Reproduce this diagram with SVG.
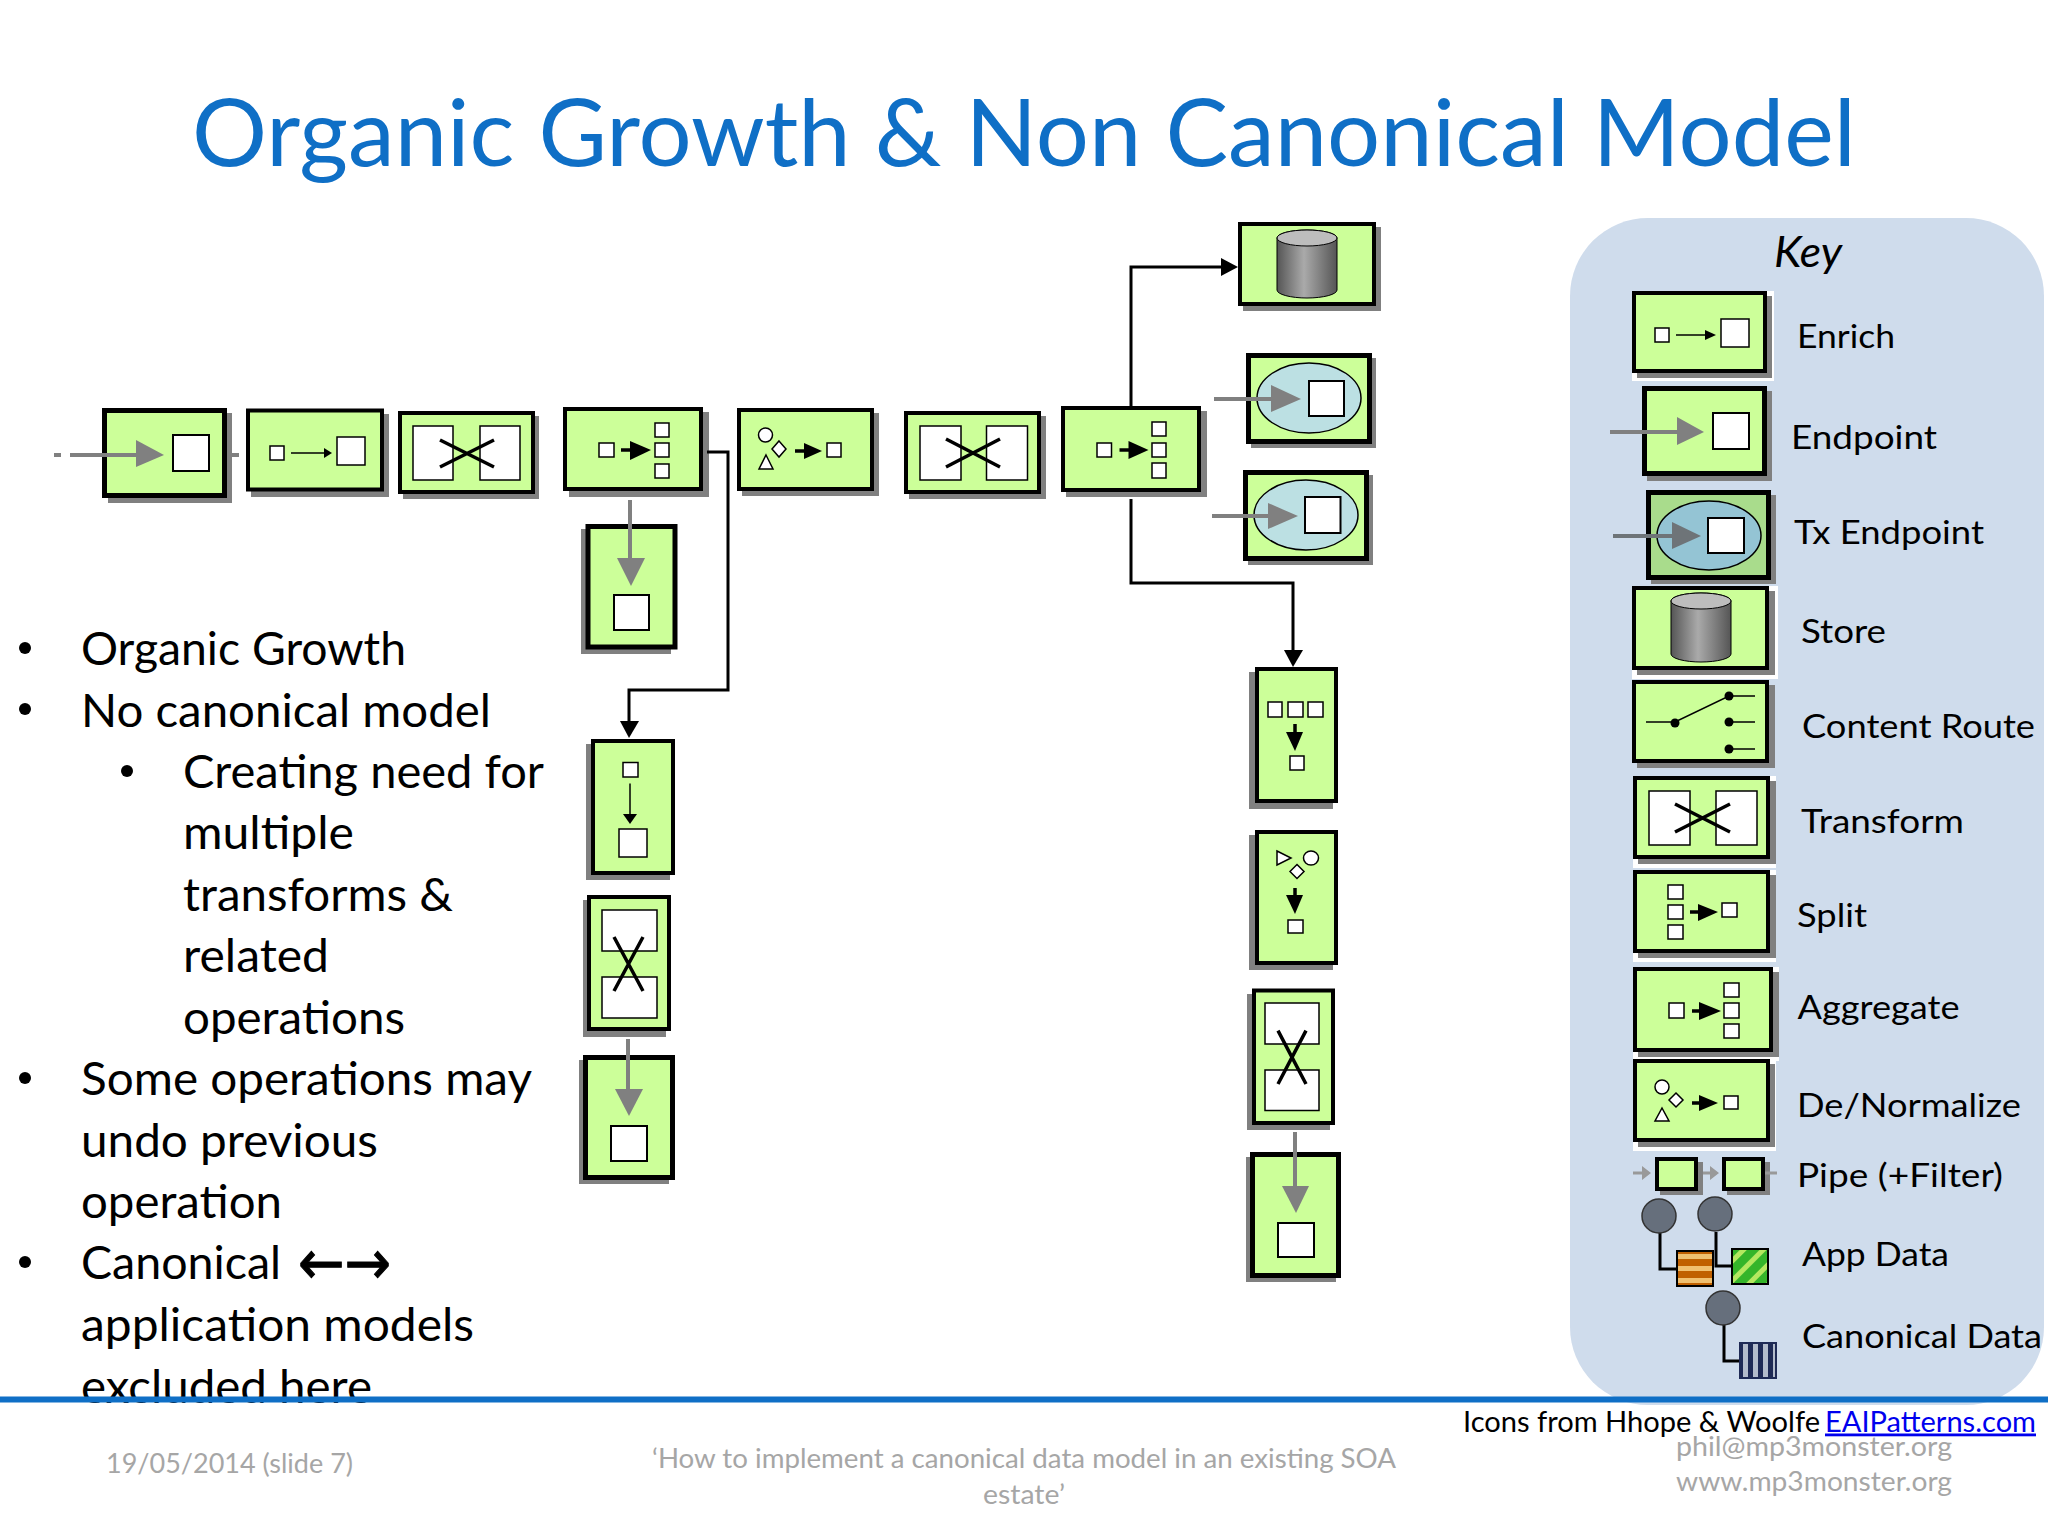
<svg xmlns="http://www.w3.org/2000/svg" width="2048" height="1536" viewBox="0 0 2048 1536">
<style>
text{font-family:Lato,"Open Sans",sans-serif;fill:#000}
.title{font-size:94px;fill:#0f6fc6}
.b{font-size:46px}
.k{font-size:33px}
.f{font-size:27px;fill:#a6a6a6}
.bx{fill:#ccff99;stroke:#000;stroke-width:4}
.tk{fill:#ccff99;stroke:#000;stroke-width:5}
.sh{fill:#808080}
.hl{fill:#fff}
.w{fill:#fff;stroke:#000;stroke-width:1.5}
.w2{fill:#fff;stroke:#000;stroke-width:2}
.x{stroke:#000;stroke-width:3.5;fill:none}
.th{stroke:#000;stroke-width:1.5;fill:none}
.ga{stroke:#808080;stroke-width:4;fill:none}
.gt{fill:#808080}
.bt{fill:#000}
.bl{stroke:#000;stroke-width:3;fill:none}
.tx{fill:#bce0e3;stroke:#000;stroke-width:1.5}
.cy{fill:url(#cyl);stroke:#000;stroke-width:1}
.ct{fill:#bdbdbd;stroke:#000;stroke-width:1}
.dc{fill:#666f7c;stroke:#333;stroke-width:1.5}
</style>
<defs>
<linearGradient id="cyl" x1="0" x2="1" y1="0" y2="0"><stop offset="0" stop-color="#555"/><stop offset=".45" stop-color="#aaa"/><stop offset="1" stop-color="#555"/></linearGradient>
<pattern id="po" width="10" height="12" patternUnits="userSpaceOnUse" y="1251"><rect width="10" height="12" fill="#c06000"/><rect y="3" width="10" height="5" fill="#f0c070"/></pattern>
<pattern id="pg" width="14" height="14" patternUnits="userSpaceOnUse" patternTransform="rotate(-45)"><rect width="14" height="14" fill="#35b52a"/><rect width="14" height="5" fill="#b4e860"/></pattern>
<pattern id="pb" width="10" height="10" patternUnits="userSpaceOnUse" x="1740"><rect width="10" height="10" fill="#1f2a55"/><rect x="3" width="5" height="10" fill="#b4bccb"/></pattern>
</defs>
<rect width="2048" height="1536" fill="#fff"/>
<text class="title" x="192" y="166" textLength="1664" lengthAdjust="spacingAndGlyphs">Organic Growth &amp; Non Canonical Model</text>

<g id="key-panel"><rect x="1570" y="218" width="474" height="1187" rx="78" fill="#cfdcec"/>
<text class="k" x="1774" y="267" font-style="italic" style="font-size:42px" textLength="68" lengthAdjust="spacingAndGlyphs">Key</text></g>

<g id="bullets" class="b">
<circle cx="25" cy="648" r="6"/><circle cx="25" cy="709" r="6"/><circle cx="127" cy="771" r="6"/><circle cx="25" cy="1078" r="6"/><circle cx="25" cy="1262" r="6"/>
<text class="b" x="81" y="665" textLength="325" lengthAdjust="spacingAndGlyphs">Organic Growth</text>
<text class="b" x="81" y="726.500" textLength="410" lengthAdjust="spacingAndGlyphs">No canonical model</text>
<text class="b" x="183" y="788" textLength="361" lengthAdjust="spacingAndGlyphs">Creating need for</text>
<text class="b" x="183" y="849" textLength="171" lengthAdjust="spacingAndGlyphs">multiple</text>
<text class="b" x="183" y="910.500" textLength="270" lengthAdjust="spacingAndGlyphs">transforms &amp;</text>
<text class="b" x="183" y="972" textLength="146" lengthAdjust="spacingAndGlyphs">related</text>
<text class="b" x="183" y="1034" textLength="222" lengthAdjust="spacingAndGlyphs">operations</text>
<text class="b" x="81" y="1095" textLength="451" lengthAdjust="spacingAndGlyphs">Some operations may</text>
<text class="b" x="81" y="1156.500" textLength="297" lengthAdjust="spacingAndGlyphs">undo previous</text>
<text class="b" x="81" y="1218" textLength="201" lengthAdjust="spacingAndGlyphs">operation</text>
<text class="b" x="81" y="1279" textLength="200" lengthAdjust="spacingAndGlyphs">Canonical</text>
<text x="298" y="1284" style="font-family:'DejaVu Sans',sans-serif;font-size:62px;stroke:#000;stroke-width:1" textLength="93" lengthAdjust="spacingAndGlyphs">←→</text>
<text class="b" x="81" y="1341" textLength="393" lengthAdjust="spacingAndGlyphs">application models</text>
<text class="b" x="81" y="1403" textLength="291" lengthAdjust="spacingAndGlyphs">excluded here</text>
</g>

<g id="n1-endpoint"><rect class="sh" x="108" y="413" width="124" height="90"/><rect class="tk" x="104.500" y="410.500" width="120" height="85"/><rect class="w2" x="173" y="435" width="36" height="36"/></g>
<g id="n2-enrich"><rect class="sh" x="251" y="414" width="138" height="83"/><rect class="bx" x="248" y="410.500" width="134" height="79"/><rect class="w" x="270" y="446" width="14" height="14"/><rect class="w" x="337" y="437" width="28" height="28"/><path class="th" d="M291 453H326"/><path class="bt" d="M324 448L332 453L324 458Z"/></g>
<g id="n3-transform"><rect class="sh" x="403" y="416" width="136" height="83"/><rect class="bx" x="400" y="413" width="133" height="79"/><rect class="w" x="413" y="426" width="40" height="54"/><rect class="w" x="480" y="426" width="40" height="54"/><path class="x" d="M440 440L494 467M440 467L494 440"/></g>
<g id="n4-aggregate"><rect class="sh" x="569" y="412" width="140" height="85"/><rect class="bx" x="565" y="409" width="136" height="80"/><rect class="w" x="599" y="443" width="15" height="14"/><rect class="w" x="655" y="423" width="14" height="14"/><rect class="w" x="655" y="443" width="14" height="14"/><rect class="w" x="655" y="464" width="14" height="14"/><path class="x" d="M621 450H634"/><path class="bt" d="M630 441L651 450L630 460Z"/></g>
<g id="n5-endpoint"><rect class="sh" x="581" y="529" width="90" height="125"/><rect class="tk" x="588" y="526.500" width="87" height="120.500"/><rect class="w2" x="614" y="595" width="35" height="35"/></g>
<g id="n6-denormalize"><rect class="sh" x="742" y="413" width="137" height="83"/><rect class="bx" x="739" y="410" width="133" height="79"/><ellipse class="w" cx="765.500" cy="435" rx="7" ry="7"/><path class="w" d="M779 441L786 449L779 457L772 449Z"/><path class="w" d="M766 455L773 469H759Z"/><path class="x" d="M795 451H806"/><path class="bt" d="M804 443L822 451L804 459Z"/><rect class="w" x="827" y="443" width="14" height="14"/></g>
<g id="n7-transform"><rect class="sh" x="909" y="416" width="137" height="83"/><rect class="bx" x="906" y="413" width="133" height="79"/><rect class="w" x="920" y="426" width="41" height="54"/><rect class="w" x="986.500" y="426" width="41" height="54"/><path class="x" d="M946 439L1000 467M946 467L1000 439"/></g>
<g id="n8-aggregate"><rect class="sh" x="1066" y="411" width="141" height="86"/><rect class="bx" x="1063" y="408" width="136" height="82"/><rect class="w" x="1097" y="443" width="14.500" height="14"/><rect class="w" x="1152" y="422" width="14" height="14"/><rect class="w" x="1152" y="443" width="14" height="14"/><rect class="w" x="1152" y="463" width="14" height="15"/><path class="x" d="M1119.500 450H1133"/><path class="bt" d="M1128.500 441L1148.500 450L1128.500 459Z"/></g>
<g id="n9-store"><rect class="sh" x="1243" y="227" width="138" height="84"/><rect class="bx" x="1240" y="224" width="134" height="80"/><path class="cy" d="M1277 238V290A30 8 0 0 0 1337 290V238A30 8 0 0 0 1277 238Z"/><ellipse class="ct" cx="1307" cy="238" rx="30" ry="8"/></g>
<g id="n10-tx"><rect class="sh" x="1251" y="358" width="125" height="90"/><rect class="tk" x="1248.500" y="355.500" width="121" height="86"/><ellipse class="tx" cx="1309" cy="398" rx="52" ry="35"/><rect class="w2" x="1309" y="381" width="35" height="35"/><path class="ga" d="M1214 399H1275"/><path class="gt" d="M1271 385L1301 399L1271 412Z"/></g>
<g id="n11-tx"><rect class="sh" x="1248" y="475" width="125" height="90"/><rect class="tk" x="1245.500" y="472.500" width="121" height="86"/><ellipse class="tx" cx="1306" cy="515" rx="52" ry="35"/><rect class="w2" x="1305" y="497" width="35.500" height="36"/><path class="ga" d="M1212 516H1272"/><path class="gt" d="M1268 503L1298 516L1268 529Z"/></g>
<g id="n12-aggregate"><rect class="sh" x="1249" y="672" width="84" height="137"/><rect class="bx" x="1257" y="669" width="79" height="132"/><rect class="w" x="1268" y="702" width="14" height="15"/><rect class="w" x="1288" y="702" width="15" height="15"/><rect class="w" x="1308" y="702" width="15" height="15"/><path class="x" d="M1295 724V736"/><path class="bt" d="M1286 732H1303L1295 751Z"/><rect class="w" x="1290" y="756" width="14" height="14"/></g>
<g id="n13-enrich"><rect class="sh" x="586" y="744" width="84" height="136"/><rect class="bx" x="593" y="741" width="80" height="132"/><rect class="w" x="623" y="762.500" width="15" height="14.500"/><path class="th" d="M630 783.500V818"/><path class="bt" d="M623 814H637L630 824Z"/><rect class="w" x="619" y="829" width="28" height="28"/></g>
<g id="n14-transform"><rect class="sh" x="583" y="900" width="83" height="137"/><rect class="bx" x="589" y="897" width="80" height="132"/><rect class="w" x="602" y="910" width="55" height="41"/><rect class="w" x="602" y="977" width="55" height="41"/><path class="x" d="M614 937L643 991M643 937L614 991"/></g>
<g id="n15-endpoint"><rect class="sh" x="579" y="1060" width="90" height="124"/><rect class="tk" x="585.500" y="1057.500" width="87" height="120"/><rect class="w2" x="611" y="1126" width="36" height="35"/></g>
<g id="n16-denormalize"><rect class="sh" x="1249" y="835" width="84" height="135"/><rect class="bx" x="1257" y="832" width="79" height="131"/><path class="w" d="M1277 851L1291 858L1277 865Z"/><ellipse class="w" cx="1311" cy="858" rx="7.500" ry="7"/><path class="w" d="M1297 864.500L1304 871.500L1297 878.500L1290 871.500Z"/><path class="x" d="M1295 888V900"/><path class="bt" d="M1286 895H1303L1295 914Z"/><rect class="w" x="1288" y="920" width="15" height="13"/></g>
<g id="n17-transform"><rect class="sh" x="1247" y="994" width="83" height="136"/><rect class="bx" x="1254" y="990.500" width="79" height="132.500"/><rect class="w" x="1265" y="1003" width="54" height="41"/><rect class="w" x="1265" y="1070" width="54" height="40.500"/><path class="x" d="M1278 1030.600L1306 1084M1306 1030.600L1278 1084"/></g>
<g id="n18-endpoint"><rect class="sh" x="1246" y="1157" width="90" height="125"/><rect class="tk" x="1252.500" y="1154.500" width="86" height="121"/><rect class="w2" x="1278" y="1223" width="36" height="34"/></g>

<g id="gray-arrows">
<path class="ga" d="M54 455H61M70 455H140M232 455H239"/><path class="gt" d="M136 440L164 455L136 467Z"/>
<path class="ga" d="M630 500V562"/><path class="gt" d="M617 558H645L631 586Z"/>
<path class="ga" d="M628 1039V1093"/><path class="gt" d="M615 1089H643L629 1116Z"/>
<path class="ga" d="M1295 1132V1190"/><path class="gt" d="M1282 1186H1309L1296 1213Z"/>
</g>
<g id="connectors">
<path class="bl" d="M707 452H728V690H629V724"/><path class="bt" d="M620 721H639L629 738Z"/>
<path class="bl" d="M1131 406V267H1223"/><path class="bt" d="M1221 258L1238 267L1221 276Z"/>
<path class="bl" d="M1131 499V583H1293V653"/><path class="bt" d="M1284 650H1303L1293 667Z"/>
</g>

<g id="key-enrich"><rect class="hl" x="1632" y="291" width="142" height="90"/><rect class="sh" x="1637" y="296" width="135" height="82"/><rect class="bx" x="1634" y="293" width="131" height="78"/><rect class="w" x="1655" y="328" width="14" height="14"/><rect class="w" x="1721" y="319" width="28" height="28"/><path class="th" d="M1676 335H1712"/><path class="bt" d="M1705 330L1716 335L1705 340Z"/><text class="k" x="1797" y="348" textLength="98" lengthAdjust="spacingAndGlyphs">Enrich</text></g>
<g id="key-endpoint"><rect class="sh" x="1647" y="391" width="125" height="90"/><rect class="tk" x="1644.500" y="388.500" width="120" height="85"/><rect class="w2" x="1713" y="413" width="36" height="36"/><path class="ga" d="M1610 432H1680"/><path class="gt" d="M1677 417L1704 432L1677 445Z"/><text class="k" x="1791" y="449" textLength="146" lengthAdjust="spacingAndGlyphs">Endpoint</text></g>
<g id="key-tx-endpoint"><rect class="sh" x="1651" y="495" width="125" height="89"/><rect x="1648.500" y="492.500" width="120" height="85" fill="#a9dc8c" stroke="#000" stroke-width="5"/><ellipse cx="1709" cy="535.500" rx="52" ry="34.500" fill="#94c4d4" stroke="#000" stroke-width="1.500"/><rect class="w2" x="1708" y="518" width="36" height="35"/><path class="ga" d="M1613 536H1675" style="stroke:#6e7478"/><path d="M1672 522L1701 536L1672 549Z" fill="#6e7478"/><text class="k" x="1794" y="544" textLength="190" lengthAdjust="spacingAndGlyphs">Tx Endpoint</text></g>
<g id="key-store"><rect class="hl" x="1632" y="586" width="146" height="93"/><rect class="sh" x="1637" y="591" width="138" height="84"/><rect class="bx" x="1634" y="588" width="133" height="80"/><path class="cy" d="M1671 601V654A30 8 0 0 0 1731 654V601A30 8 0 0 0 1671 601Z"/><ellipse class="ct" cx="1701" cy="601" rx="30" ry="8"/><text class="k" x="1801" y="643" textLength="85" lengthAdjust="spacingAndGlyphs">Store</text></g>
<g id="key-content-route"><rect class="sh" x="1637" y="685" width="138" height="83"/><rect class="bx" x="1634" y="682" width="133" height="79"/><path class="th" d="M1646 722H1675L1729 696H1755M1729 722H1755M1729 749H1755"/><circle cx="1675" cy="723" r="4.500"/><circle cx="1729" cy="696" r="4.500"/><circle cx="1729" cy="722" r="4.500"/><circle cx="1729" cy="749" r="4.500"/><text class="k" x="1802" y="738" textLength="233" lengthAdjust="spacingAndGlyphs">Content Route</text></g>
<g id="key-transform"><rect class="hl" x="1633" y="776" width="143" height="92"/><rect class="sh" x="1638" y="781" width="138" height="83"/><rect class="bx" x="1635" y="778" width="133" height="79"/><rect class="w" x="1649" y="791" width="41" height="54"/><rect class="w" x="1716" y="791" width="41" height="54"/><path class="x" d="M1675 804L1730 832M1675 832L1730 804"/><text class="k" x="1801" y="833" textLength="163" lengthAdjust="spacingAndGlyphs">Transform</text></g>
<g id="key-split"><rect class="hl" x="1633" y="870" width="143" height="92"/><rect class="sh" x="1638" y="875" width="138" height="83"/><rect class="bx" x="1635" y="872" width="133" height="79"/><rect class="w" x="1668" y="885" width="15" height="14"/><rect class="w" x="1668" y="905" width="15" height="14"/><rect class="w" x="1668" y="925" width="15" height="14"/><path class="x" d="M1690 912H1702"/><path class="bt" d="M1698 904L1718 912L1698 921Z"/><rect class="w" x="1722" y="903" width="15" height="14"/><text class="k" x="1797" y="927" textLength="70" lengthAdjust="spacingAndGlyphs">Split</text></g>
<g id="key-aggregate"><rect class="hl" x="1633" y="967" width="146" height="94"/><rect class="sh" x="1638" y="972" width="141" height="85"/><rect class="bx" x="1635" y="969" width="136" height="81"/><rect class="w" x="1669" y="1003" width="15" height="15"/><rect class="w" x="1724" y="983" width="15" height="14"/><rect class="w" x="1724" y="1003" width="15" height="15"/><rect class="w" x="1724" y="1024" width="15" height="14"/><path class="x" d="M1692 1011H1703"/><path class="bt" d="M1699 1002L1721 1011L1699 1020Z"/><text class="k" x="1797.500" y="1019" textLength="162" lengthAdjust="spacingAndGlyphs">Aggregate</text></g>
<g id="key-denormalize"><rect class="hl" x="1633" y="1059" width="143" height="92"/><rect class="sh" x="1638" y="1064" width="137" height="83"/><rect class="bx" x="1635" y="1061" width="133" height="79"/><circle class="w" cx="1662" cy="1087" r="7"/><path class="w" d="M1676 1093L1683 1100L1676 1107L1669 1100Z"/><path class="w" d="M1662 1108L1669 1121H1655Z"/><path class="x" d="M1692 1103H1702"/><path class="bt" d="M1699 1095L1718 1103L1699 1111Z"/><rect class="w" x="1724" y="1096" width="14" height="13"/><text class="k" x="1797" y="1117" textLength="224" lengthAdjust="spacingAndGlyphs">De/Normalize</text></g>
<g id="key-pipe"><rect class="sh" x="1660" y="1162" width="43" height="33"/><rect class="sh" x="1727" y="1162" width="43" height="33"/><rect class="bx" x="1657" y="1159" width="39" height="30"/><rect class="bx" x="1724" y="1159" width="39" height="30"/><path d="M1633 1173H1645M1703 1173H1712M1765 1173H1777" stroke="#999" stroke-width="3" fill="none"/><path fill="#999" d="M1642 1166L1651 1173L1642 1180ZM1710 1166L1719 1173L1710 1180Z"/><text class="k" x="1797" y="1187" textLength="206" lengthAdjust="spacingAndGlyphs">Pipe (+Filter)</text></g>
<g id="key-app-data"><path class="bl" d="M1660 1233V1269H1677M1716 1232V1266H1732"/><circle class="dc" cx="1659" cy="1216" r="17"/><circle class="dc" cx="1715" cy="1214" r="17"/><rect x="1677" y="1251" width="36" height="35" fill="url(#po)" stroke="#000" stroke-width="2"/><rect x="1732" y="1249" width="36" height="35" fill="url(#pg)" stroke="#000" stroke-width="2"/><text class="k" x="1802" y="1266" textLength="147" lengthAdjust="spacingAndGlyphs">App Data</text></g>
<g id="key-canonical-data"><path class="bl" d="M1724 1325V1361H1740"/><circle class="dc" cx="1723" cy="1308" r="17"/><rect x="1740" y="1343" width="36" height="35" fill="url(#pb)" stroke="#1f2a55" stroke-width="2"/><text class="k" x="1802" y="1348" textLength="240" lengthAdjust="spacingAndGlyphs">Canonical Data</text></g>

<rect id="footer-rule" x="0" y="1396.500" width="2048" height="6" fill="#0f6fc6"/>
<g id="footer">
<text class="f" x="106" y="1473" textLength="247" lengthAdjust="spacingAndGlyphs">19/05/2014 (slide 7)</text>
<text class="f" x="652" y="1468" textLength="744" lengthAdjust="spacingAndGlyphs">‘How to implement a canonical data model in an existing SOA</text>
<text class="f" x="983" y="1504" textLength="82" lengthAdjust="spacingAndGlyphs">estate’</text>
<text class="f" x="1676" y="1455.500" textLength="276" lengthAdjust="spacingAndGlyphs">phil@mp3monster.org</text>
<text class="f" x="1676" y="1491" textLength="276" lengthAdjust="spacingAndGlyphs">www.mp3monster.org</text>
<text x="1463" y="1431.500" style="font-size:28px" textLength="357" lengthAdjust="spacingAndGlyphs">Icons from Hhope &amp; Woolfe</text>
<text x="1825" y="1431.500" style="font-size:28px;fill:#0000ee" text-decoration="underline" textLength="211" lengthAdjust="spacingAndGlyphs">EAIPatterns.com</text>
</g>
</svg>
